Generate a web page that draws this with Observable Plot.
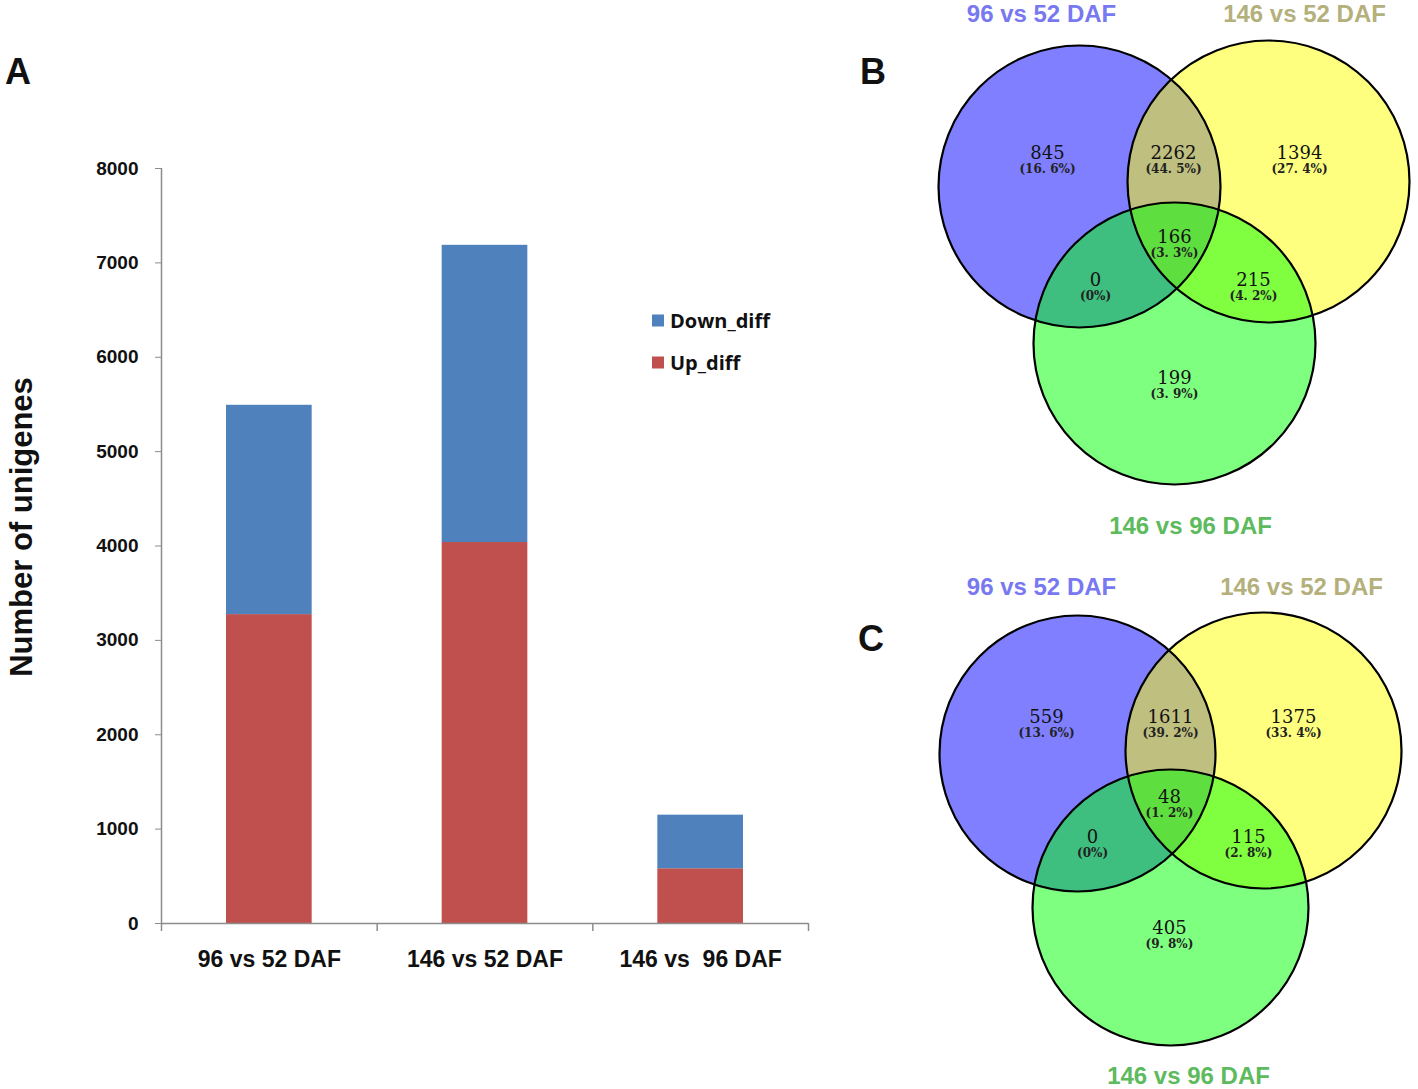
<!DOCTYPE html>
<html>
<head>
<meta charset="utf-8">
<script src="https://cdn.jsdelivr.net/npm/d3@7"></script>
<script src="https://cdn.jsdelivr.net/npm/@observablehq/plot@0.6"></script>
<style>
  html, body { margin: 0; padding: 0; background: #fff; }
  #root { position: relative; width: 1418px; height: 1089px; overflow: hidden; font-family: "Liberation Sans", Arial, sans-serif; }
  .abs { position: absolute; }
  .letter { font-weight: bold; font-size: 36px; color: #111; line-height: 1; }
  .ylabel { font-weight: bold; font-size: 31px; color: #111; white-space: nowrap; transform: translate(-50%, -50%) rotate(-90deg); }
  .legend-item { display: flex; align-items: center; font-family: "Open Sans", sans-serif; font-weight: 700; font-size: 20px; color: #111; transform: translateY(-50%); }
  .legend-item .sw { width: 12px; height: 12px; margin-right: 6px; }
  svg text { white-space: pre; }
</style>
</head>
<body>
<div id="root"></div>
<script>
// ---------- data ----------
const categories = ["96 vs 52 DAF", "146 vs 52 DAF", "146 vs  96 DAF"];
const seriesNames = ["Up_diff", "Down_diff"];
const upDiff = [3273, 4037, 580];
const downDiff = [2218, 3149, 568];
const yTicks = [0, 1000, 2000, 3000, 4000, 5000, 6000, 7000, 8000];

const vennSets = ["96 vs 52 DAF", "146 vs 52 DAF", "146 vs 96 DAF"];
// regions: A only, A∩B, B only, A∩C, A∩B∩C, B∩C, C only
const vennCountsB = [845, 2262, 1394, 0, 166, 215, 199];
const vennPctB = [16.6, 44.5, 27.4, 0, 3.3, 4.2, 3.9];
const vennCountsC = [559, 1611, 1375, 0, 48, 115, 405];
const vennPctC = [13.6, 39.2, 33.4, 0, 1.2, 2.8, 9.8];

// ---------- layout / style ----------
const barColors = { Up_diff: "#C0504D", Down_diff: "#4F81BD" };
const vennFill = ["#0000FF", "#FFFF00", "#00FF00"];
const vennTitleColor = ["#7878F0", "#B4B07C", "#5DBA5D"];
const layoutB = {
  left: 900, top: 0, width: 518, height: 545, r: 141,
  centers: [[179, 186], [368, 181], [274, 343]],
  labels: [[147, 161], [273, 161], [399, 161], [195, 288], [274, 245], [353, 288], [274, 386]],
  titles: [[141, 14], [404, 14], [290, 526]]
};
const layoutC = {
  left: 900, top: 560, width: 518, height: 529, r: 138,
  centers: [[177, 193], [363, 190], [270, 347]],
  labels: [[146, 165], [270, 165], [393, 165], [192, 285], [269, 245], [348, 285], [269, 376]],
  titles: [[141, 27], [401, 27], [288, 516]]
};

const root = document.getElementById("root");

// ---------- Panel A: stacked bars ----------
const barData = [];
categories.forEach((c, i) => {
  let base = 0;
  [["Up_diff", upDiff[i]], ["Down_diff", downDiff[i]]].forEach(([s, v]) => {
    barData.push({ i, cat: c, series: s, y1: base, y2: base + v });
    base += v;
  });
});

const plotA = Plot.plot({
  width: 880, height: 1089,
  marginLeft: 161, marginRight: 72, marginTop: 168, marginBottom: 166,
  x: { domain: [0, categories.length], axis: null },
  y: { domain: [0, 8000], axis: null },
  color: { domain: seriesNames, range: seriesNames.map(s => barColors[s]) },
  style: { fontFamily: "Liberation Sans, Arial, sans-serif", background: "transparent", overflow: "visible", color: "#111" },
  marks: [
    Plot.rect(barData, { x1: "i", x2: d => d.i + 1, y1: "y1", y2: "y2", fill: "series", insetLeft: 65, insetRight: 65 }),
    Plot.ruleY([0], { stroke: "#8c8c8c", strokeWidth: 1.5 }),
    Plot.ruleX([0], { stroke: "#8c8c8c", strokeWidth: 1.5 }),
    Plot.axisY({ ticks: yTicks, tickSize: 6, tickPadding: 17, tickFormat: d => String(d), stroke: "#8c8c8c", fill: "#111", fontSize: 19, fontWeight: "bold", label: null }),
    Plot.axisX({ ticks: d3.range(categories.length + 1), tickSize: 8, tickFormat: () => "", stroke: "#8c8c8c", strokeWidth: 1.5, label: null }),
    Plot.axisX({ ticks: categories.map((c, i) => i + 0.5), tickSize: 0, tickPadding: 27, tickFormat: v => categories[Math.floor(v)], fill: "#111", fontSize: 23, fontWeight: "bold", label: null })
  ]
});
plotA.style.position = "absolute";
plotA.style.left = "0px";
plotA.style.top = "0px";
root.appendChild(plotA);

// y label
const yl = document.createElement("div");
yl.className = "abs ylabel";
yl.style.left = "22px"; yl.style.top = "527px";
yl.textContent = "Number of unigenes";
root.appendChild(yl);

// legend (top item = Down_diff)
[["Down_diff", 320], ["Up_diff", 362]].forEach(([s, y]) => {
  const it = document.createElement("div");
  it.className = "abs legend-item";
  it.style.left = "652px"; it.style.top = y + "px";
  it.innerHTML = `<span class="sw" style="background:${barColors[s]}"></span><span>${s}</span>`;
  root.appendChild(it);
});

// ---------- Venn panels ----------
function fmtPct(p) {
  if (p === 0) return "(0%)";
  return "(" + p.toFixed(1).replace(".", ". ") + "%)";
}
function vennPlot(counts, pcts, L) {
  const circles = vennSets.map((s, k) => ({ set: s, cx: L.centers[k][0], cy: L.centers[k][1] }));
  const labels = counts.map((n, k) => ({ n, p: pcts[k], x: L.labels[k][0], y: L.labels[k][1] }));
  const titles = vennSets.map((s, k) => ({ s, k, x: L.titles[k][0], y: L.titles[k][1] }));
  const p = Plot.plot({
    width: L.width, height: L.height, margin: 0,
    x: { domain: [0, L.width], axis: null },
    y: { domain: [0, L.height], reverse: true, axis: null },
    color: { domain: vennSets, range: vennFill },
    style: { background: "transparent", overflow: "visible" },
    marks: [
      Plot.dot(circles, { x: "cx", y: "cy", r: L.r, fill: "set", fillOpacity: 0.5, stroke: "none" }),
      Plot.dot(circles, { x: "cx", y: "cy", r: L.r, fill: "none", stroke: "#000", strokeWidth: 2.2 }),
      Plot.text(labels, { x: "x", y: "y", text: d => String(d.n), dy: -8, fontSize: 18, fontFamily: "DejaVu Serif, serif", fill: "#111" }),
      Plot.text(labels, { x: "x", y: "y", text: d => fmtPct(d.p), dy: 8, fontSize: 12, fontWeight: "bold", fontFamily: "DejaVu Serif, serif", fill: "#222" }),
      Plot.text(titles, { x: "x", y: "y", text: "s", fill: d => vennTitleColor[d.k], fontSize: 24, fontWeight: "bold", fontFamily: "Liberation Sans, Arial, sans-serif" })
    ]
  });
  p.style.position = "absolute";
  p.style.left = L.left + "px";
  p.style.top = L.top + "px";
  return p;
}
root.appendChild(vennPlot(vennCountsB, vennPctB, layoutB));
root.appendChild(vennPlot(vennCountsC, vennPctC, layoutC));

// panel letters
[["A", 5, 54], ["B", 860, 54], ["C", 858, 621]].forEach(([t, x, y]) => {
  const d = document.createElement("div");
  d.className = "abs letter";
  d.style.left = x + "px"; d.style.top = y + "px";
  d.textContent = t;
  root.appendChild(d);
});
</script>
</body>
</html>
